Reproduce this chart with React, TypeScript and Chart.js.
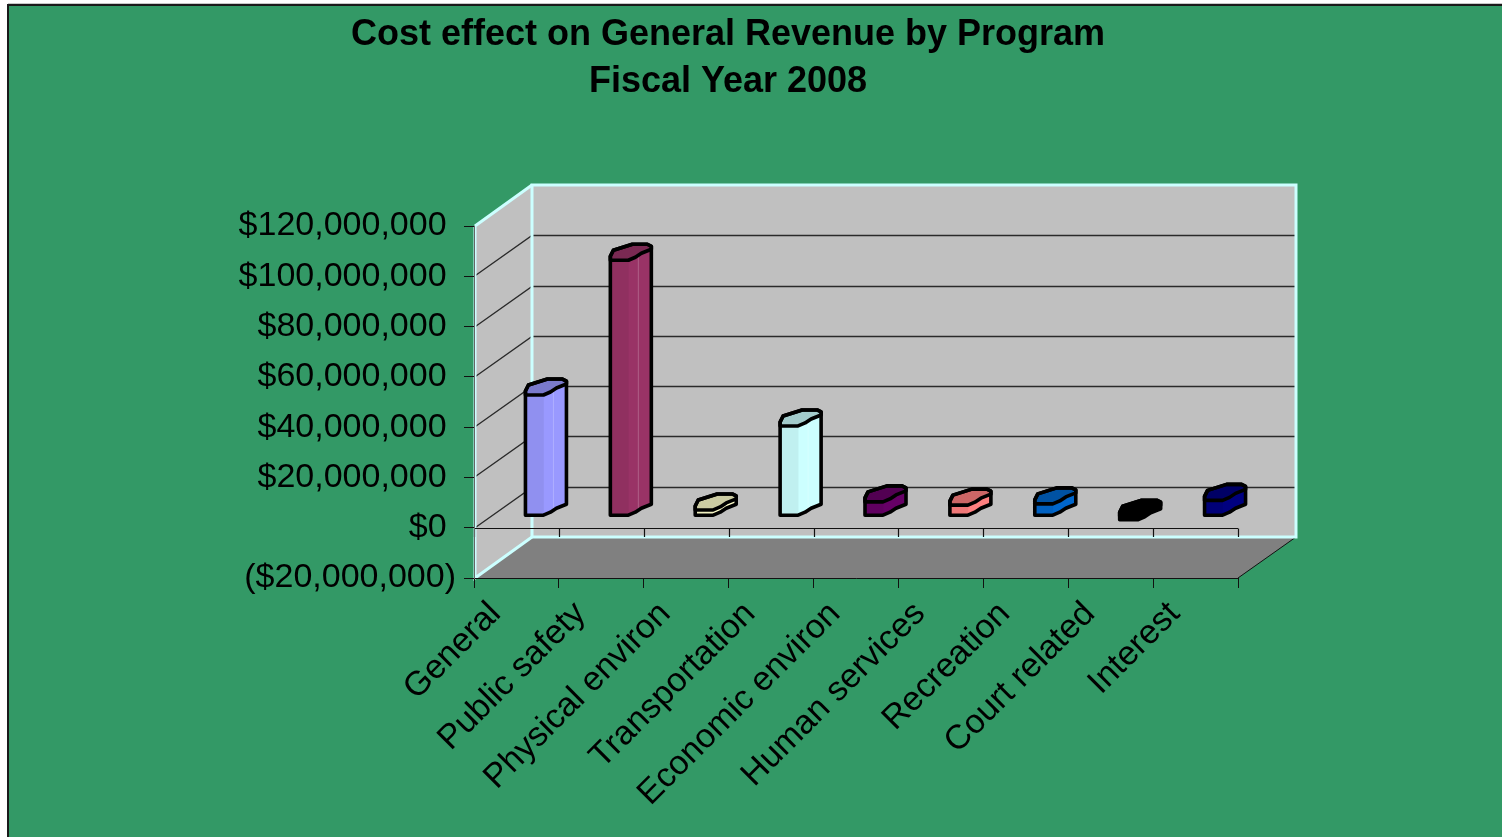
import React, { useEffect, useRef } from "react";
import { Chart, registerables } from "chart.js";

Chart.register(...registerables);

const categories = [
  "General",
  "Public safety",
  "Physical environ",
  "Transportation",
  "Economic environ",
  "Human services",
  "Recreation",
  "Court related",
  "Interest",
];
const costEffect = [48000000, 101600000, 2300000, 35700000, 5500000, 4200000, 4700000, -1600000, 6100000];
const barColors = ["#9999FF", "#993366", "#FFFFCC", "#CCFFFF", "#660066", "#FF8080", "#0066CC", "#000000", "#000080"];
const titleLines = ["Cost effect on General Revenue by Program", "Fiscal Year 2008"];
const yTickLabels: Record<string, string> = {
  "120000000": "$120,000,000 ",
  "100000000": "$100,000,000 ",
  "80000000": "$80,000,000 ",
  "60000000": "$60,000,000 ",
  "40000000": "$40,000,000 ",
  "20000000": "$20,000,000 ",
  "0": "$0 ",
  "-20000000": "($20,000,000)",
};

const FONT = "'Liberation Sans', Arial, sans-serif";
const WALL_DX = 58;
const WALL_DY = -41;
const BAR_DX = 18;
const BAR_DY = -12;
const FRAME = "#ccffff";
const topShape: [number, number][] = [
  [0, 0], [18, 0], [25, -3], [31, -7], [41, -11], [41, -14], [37, -16], [22, -16], [3, -10], [0, -4],
];
const baseShape: [number, number][] = [
  [18, 0], [25, -3], [31, -7], [41, -11],
];

function shade(hex: string, f: number) {
  const n = parseInt(hex.slice(1), 16);
  const c = [(n >> 16) & 255, (n >> 8) & 255, n & 255].map((v) => Math.round(v * f));
  return `rgb(${c[0]},${c[1]},${c[2]})`;
}

const backdrop = {
  id: "backdrop",
  afterLayout(chart: any) {
    chart.titleBlock.left = 0;
    chart.titleBlock.right = 1456;
  },
  beforeDraw(chart: any) {
    const { ctx, chartArea: a, scales } = chart;
    const L = a.left, R = a.right, T = a.top, B = a.bottom;
    ctx.save();
    ctx.fillStyle = "#ffffff";
    ctx.fillRect(0, 0, chart.width, chart.height);
    ctx.fillStyle = "#c8c8c8";
    ctx.fillRect(8, 3, chart.width, 1);
    ctx.fillStyle = "#1a1a1a";
    ctx.fillRect(7, 4, chart.width, chart.height);
    ctx.fillStyle = "#339966";
    ctx.fillRect(9, 6, chart.width, chart.height);

    // floor
    ctx.fillStyle = "#808080";
    ctx.beginPath();
    ctx.moveTo(L, B);
    ctx.lineTo(R, B);
    ctx.lineTo(R + WALL_DX, B + WALL_DY);
    ctx.lineTo(L + WALL_DX, B + WALL_DY);
    ctx.closePath();
    ctx.fill();
    ctx.strokeStyle = "#111";
    ctx.lineWidth = 1;
    ctx.beginPath();
    ctx.moveTo(R, B);
    ctx.lineTo(R + WALL_DX, B + WALL_DY);
    ctx.stroke();

    // side wall and back wall
    ctx.fillStyle = "#c0c0c0";
    ctx.beginPath();
    ctx.moveTo(L, T);
    ctx.lineTo(L + WALL_DX, T + WALL_DY);
    ctx.lineTo(L + WALL_DX, B + WALL_DY);
    ctx.lineTo(L, B);
    ctx.closePath();
    ctx.fill();
    ctx.fillRect(L + WALL_DX, T + WALL_DY, R - L, B - T);

    // grid lines across both walls
    ctx.strokeStyle = "#2a2a2a";
    ctx.lineWidth = 1.3;
    for (const t of scales.y.ticks) {
      if (t.value === scales.y.min || t.value === scales.y.max) continue;
      const y = Math.round(scales.y.getPixelForValue(t.value)) + 0.5;
      ctx.beginPath();
      ctx.moveTo(L, y);
      ctx.lineTo(L + WALL_DX, y + WALL_DY);
      ctx.lineTo(R + WALL_DX, y + WALL_DY);
      ctx.stroke();
    }

    // frame
    ctx.strokeStyle = FRAME;
    ctx.lineWidth = 3;
    ctx.strokeRect(L + WALL_DX, T + WALL_DY, R - L, B - T);
    ctx.beginPath();
    ctx.moveTo(L + 1, T);
    ctx.lineTo(L + WALL_DX, T + WALL_DY);
    ctx.moveTo(L + 1, T);
    ctx.lineTo(L + 1, B);
    ctx.lineTo(L + WALL_DX, B + WALL_DY);
    ctx.stroke();

    // zero line with its tick marks
    const z = Math.round(scales.y.getPixelForValue(0)) + 0.5;
    ctx.strokeStyle = "#111";
    ctx.lineWidth = 1.2;
    ctx.beginPath();
    ctx.moveTo(L, z);
    ctx.lineTo(R, z);
    scales.x.ticks.forEach((_: any, i: number) => {
      const x = Math.round(scales.x.getPixelForTick(i) - scales.x.width / categories.length / 2) + 0.5;
      ctx.moveTo(x, z);
      ctx.lineTo(x, B + WALL_DY);
    });
    ctx.moveTo(R + 0.5, z);
    ctx.lineTo(R + 0.5, B + WALL_DY);
    ctx.stroke();
    ctx.restore();
  },
};

function outline(ctx: CanvasRenderingContext2D, x0: number, top: number, bottom: number) {
  ctx.beginPath();
  ctx.moveTo(x0 + 41, top - 11);
  ctx.lineTo(x0 + 41, top - 14);
  ctx.lineTo(x0 + 37, top - 16);
  ctx.lineTo(x0 + 22, top - 16);
  ctx.lineTo(x0 + 3, top - 10);
  ctx.lineTo(x0, top - 4);
  ctx.lineTo(x0, bottom);
  baseShape.forEach(([dx, dy]) => ctx.lineTo(x0 + dx, bottom + dy));
  ctx.closePath();
}

const prism = {
  id: "prism",
  beforeDatasetsDraw(chart: any) {
    const { ctx } = chart;
    chart.getDatasetMeta(0).data.forEach((el: any, i: number) => {
      const x0 = el.x - el.width / 2 + BAR_DX;
      const top = Math.min(el.y, el.base) + BAR_DY;
      const bottom = Math.max(el.y, el.base) + BAR_DY;
      ctx.save();
      outline(ctx, x0, top, bottom);
      ctx.fillStyle = barColors[i];
      ctx.fill();
      ctx.restore();
    });
    ctx.save();
    ctx.translate(BAR_DX, BAR_DY);
  },
  afterDatasetsDraw(chart: any) {
    const { ctx } = chart;
    ctx.restore();
    chart.getDatasetMeta(0).data.forEach((el: any, i: number) => {
      const x0 = el.x - el.width / 2 + BAR_DX;
      const top = Math.min(el.y, el.base) + BAR_DY;
      const bottom = Math.max(el.y, el.base) + BAR_DY;
      ctx.save();
      ctx.lineJoin = "round";
      ctx.lineCap = "round";
      // pale ridge on the side face
      if (bottom - top > 30) {
        ctx.strokeStyle = "rgba(255,255,255,0.22)";
        ctx.lineWidth = 1;
        ctx.beginPath();
        ctx.moveTo(x0 + 28, top - 5);
        ctx.lineTo(x0 + 28, bottom - 5);
        ctx.stroke();
      }
      ctx.beginPath();
      topShape.forEach(([dx, dy], k) => {
        if (k === 0) ctx.moveTo(x0 + dx, top + dy);
        else ctx.lineTo(x0 + dx, top + dy);
      });
      ctx.closePath();
      ctx.fillStyle = shade(barColors[i], 0.8);
      ctx.fill();
      ctx.strokeStyle = "#000";
      ctx.lineWidth = 3.6;
      ctx.stroke();
      outline(ctx, x0, top, bottom);
      ctx.stroke();
      ctx.restore();
    });
  },
};

export default function App() {
  const ref = useRef<HTMLCanvasElement>(null);
  useEffect(() => {
    const chart = new Chart(ref.current as HTMLCanvasElement, {
      type: "bar",
      data: {
        labels: categories,
        datasets: [
          {
            label: "Cost effect on General Revenue",
            data: costEffect,
            backgroundColor: barColors.map((c) => shade(c, 0.94)),
            borderWidth: 0,
            barThickness: 18,
            clip: false as any,
          },
        ],
      },
      plugins: [backdrop, prism],
      options: {
        animation: false,
        responsive: false,
        devicePixelRatio: 1,
        layout: { padding: { left: 0, top: 0, right: 264, bottom: 0 } },
        plugins: {
          legend: { display: false },
          tooltip: { enabled: false },
          title: {
            display: true,
            text: titleLines,
            color: "#000",
            font: { family: FONT, size: 36, weight: "bold", lineHeight: 47 / 36 },
            padding: { top: 12, bottom: 120 },
          },
        },
        scales: {
          x: {
            grid: { drawOnChartArea: false, color: "#111", tickLength: 10 },
            border: { color: "#111", width: 1 },
            ticks: {
              color: "#000",
              font: { family: FONT, size: 34 },
              minRotation: 45,
              maxRotation: 45,
              autoSkip: false,
              labelOffset: -21,
              padding: 6,
            },
            afterFit(s: any) {
              s.height = 259;
            },
          },
          y: {
            min: -20000000,
            max: 120000000,
            grid: { drawOnChartArea: false, color: "#111", tickLength: 10 },
            border: { color: "#666", width: 1 },
            ticks: {
              stepSize: 20000000,
              color: "#000",
              font: { family: FONT, size: 34 },
              padding: 8,
              callback: (v: any) => yTickLabels[String(v)],
            },
            afterFit(s: any) {
              s.width = 474;
            },
          },
        },
      } as any,
    });
    return () => chart.destroy();
  }, []);
  return (
    <canvas
      ref={ref}
      width={1502}
      height={837}
      style={{ position: "fixed", left: 0, top: 0, width: 1502, height: 837, display: "block" }}
    />
  );
}
